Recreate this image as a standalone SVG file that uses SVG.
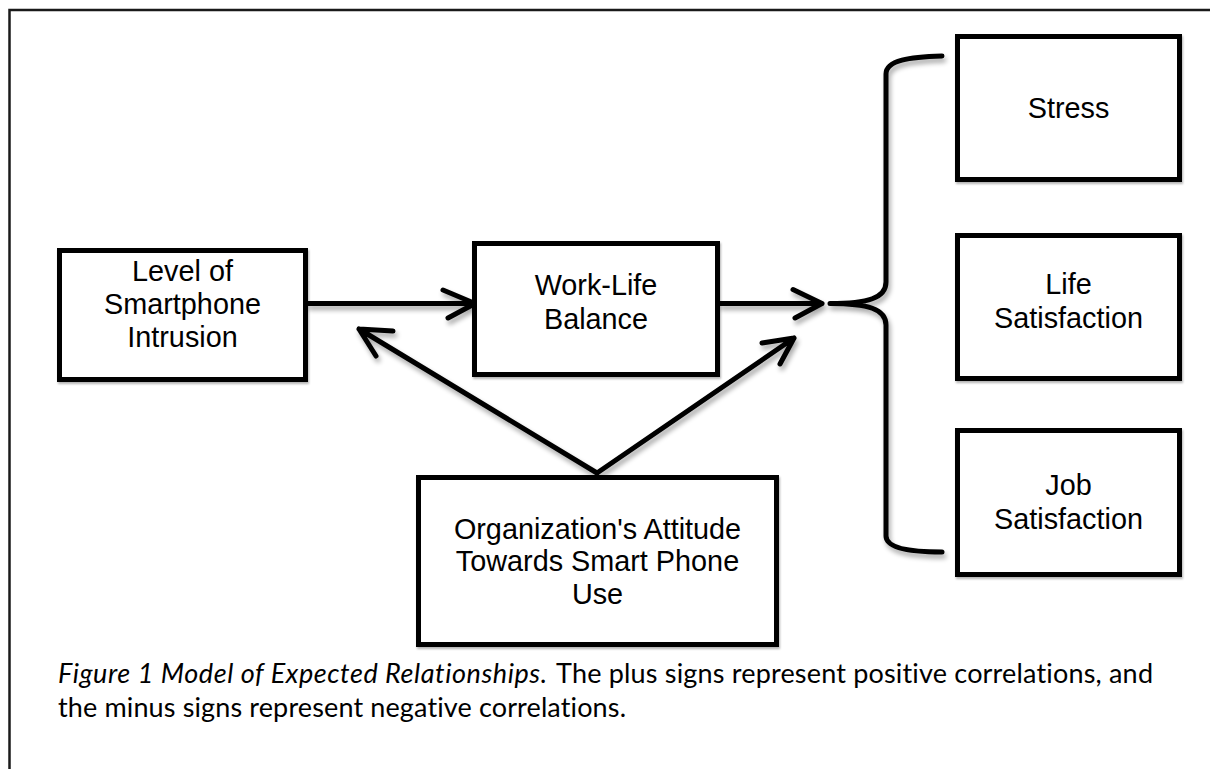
<svg xmlns="http://www.w3.org/2000/svg" width="1210" height="769" viewBox="0 0 1210 769">
  <defs>
    <filter id="shadow" x="-10%" y="-10%" width="130%" height="140%">
      <feGaussianBlur in="SourceAlpha" stdDeviation="2.5"/>
      <feOffset dx="2" dy="4" result="blur"/>
      <feComponentTransfer><feFuncA type="linear" slope="0.35"/></feComponentTransfer>
      <feMerge><feMergeNode/><feMergeNode in="SourceGraphic"/></feMerge>
    </filter>
    <filter id="boxshadow" x="-5%" y="-5%" width="110%" height="115%">
      <feGaussianBlur in="SourceAlpha" stdDeviation="1"/>
      <feOffset dx="1" dy="2"/>
      <feComponentTransfer><feFuncA type="linear" slope="0.3"/></feComponentTransfer>
      <feMerge><feMergeNode/><feMergeNode in="SourceGraphic"/></feMerge>
    </filter>
  </defs>
  <style>
    .box { fill: #ffffff; stroke: #000000; stroke-width: 5; filter: url(#boxshadow); }
    .label { font-family: "Liberation Sans", Arial, sans-serif; font-size: 28.8px; fill: #000000; text-anchor: middle; }
    .wire { fill: none; stroke: #000000; stroke-width: 5; stroke-linecap: round; stroke-linejoin: round; }
    .caption { font-family: Lato, "Open Sans", sans-serif; font-size: 27px; fill: #000000; font-variant-ligatures: none; }
  </style>

  <rect width="1210" height="769" fill="#ffffff"/>
  <!-- page frame -->
  <rect x="9.5" y="10" width="1300" height="900" fill="none" stroke="#1a1a1a" stroke-width="2.5"/>

  <!-- connectors -->
  <g id="connectors" filter="url(#shadow)">
    <!-- intrusion -> work-life balance -->
    <path class="wire" d="M308,303.5 L475,303.5 M443,290 L475,303.5 L448,318"/>
    <!-- work-life balance -> outcomes -->
    <path class="wire" d="M720,303.5 L822,303.5 M793,289.5 L822,303.5 L795,318"/>
    <!-- attitude -> intrusion (moderation) -->
    <path class="wire" d="M597,473 L359,329 M393,331 L359,329 L376,356"/>
    <!-- attitude -> outcome path -->
    <path class="wire" d="M597,473 L794,338 M762,343 L794,338 L780,364"/>
    <!-- brace grouping the outcomes -->
    <path class="wire" d="M942,56 C910,57 886,60 886,74 L886,282 C886,298 868,303.5 830,303.5 C868,303.5 886,309 886,325 L886,536 C886,548 910,552 942,552"/>
  </g>

  <g id="node-intrusion">
    <rect class="box" x="59.5" y="250.5" width="246" height="129"/>
    <text class="label" x="182.5" y="281">Level of</text>
    <text class="label" x="182.5" y="314">Smartphone</text>
    <text class="label" x="182.5" y="347">Intrusion</text>
  </g>

  <g id="node-balance">
    <rect class="box" x="474.5" y="243.5" width="243" height="131"/>
    <text class="label" x="596" y="295">Work-Life</text>
    <text class="label" x="596" y="329">Balance</text>
  </g>

  <g id="node-attitude">
    <rect class="box" x="418.5" y="477.5" width="358" height="167"/>
    <text class="label" x="597.5" y="539">Organization's Attitude</text>
    <text class="label" x="597.5" y="571">Towards Smart Phone</text>
    <text class="label" x="597.5" y="604">Use</text>
  </g>

  <g id="node-stress">
    <rect class="box" x="957.5" y="36.5" width="222" height="143"/>
    <text class="label" x="1068.5" y="118">Stress</text>
  </g>

  <g id="node-life">
    <rect class="box" x="957.5" y="235.5" width="222" height="143"/>
    <text class="label" x="1068.5" y="294">Life</text>
    <text class="label" x="1068.5" y="328">Satisfaction</text>
  </g>

  <g id="node-job">
    <rect class="box" x="957.5" y="430.5" width="222" height="144"/>
    <text class="label" x="1068.5" y="495">Job</text>
    <text class="label" x="1068.5" y="529">Satisfaction</text>
  </g>

  <!-- figure caption -->
  <g id="caption">
    <text class="caption" x="58" y="683" font-style="italic" textLength="489">Figure 1 Model of Expected Relationships.</text>
    <text class="caption" x="556" y="683" textLength="597">The plus signs represent positive correlations, and</text>
    <text class="caption" x="58" y="717" textLength="568">the minus signs represent negative correlations.</text>
  </g>
</svg>
